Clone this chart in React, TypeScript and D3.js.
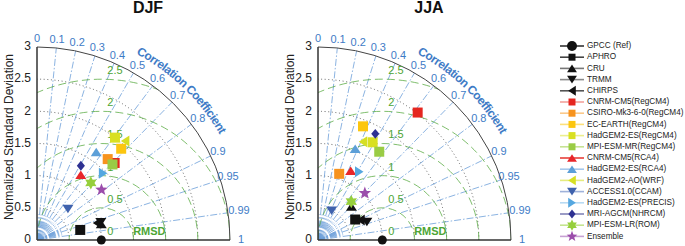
import React from 'react';
import * as d3 from 'd3';

const names = [
  'GPCC (Ref)', 'APHRO', 'CRU', 'TRMM', 'CHIRPS',
  'CNRM-CM5(RegCM4)', 'CSIRO-Mk3-6-0(RegCM4)', 'EC-EARTH(RegCM4)', 'HadGEM2-ES(RegCM4)', 'MPI-ESM-MR(RegCM4)',
  'CNRM-CM5(RCA4)', 'HadGEM2-ES(RCA4)', 'HadGEM2-AO(WRF)', 'ACCESS1.0(CCAM)', 'HadGEM2-ES(PRECIS)',
  'MRI-AGCM(NHRCM)', 'MPI-ESM-LR(ROM)', 'Ensemble',
];
const shapes = [
  'circle', 'square', 'triUp', 'triDown', 'triLeft',
  'square', 'square', 'square', 'square', 'square',
  'triUp', 'triUp', 'triLeft', 'triDown', 'triRight',
  'diamond', 'star6', 'star5',
];
const colors = [
  '#111111', '#111111', '#111111', '#111111', '#111111',
  '#e5261f', '#f7931e', '#fcc60f', '#d9e021', '#9acc45',
  '#e8262a', '#5c9fd8', '#d6df23', '#3f62ad', '#55a7e0',
  '#2e3192', '#96cf3c', '#9b4dab',
];
const lineColors = [
  '#333333', '#444444', '#777777', '#8a8a8a', '#555555',
  '#f3a29c', '#fbc98a', '#fde07a', '#ecef8e', '#c6e394',
  '#e8403a', '#a6c8ec', '#e6ec80', '#9fb2da', '#b8daf3',
  '#8384b8', '#c5e58f', '#c7a1d3',
];

const djfStd = [1, 0.69, 1.03, 1.03, 0.97, 1.7, 1.67, 1.93, 2.0, 1.66, 1.22, 1.65, 2.06, 0.68, 1.46, 1.34, 1.22, 1.27];
const djfCorr = [1, 0.974, 0.97, 0.963, 0.962, 0.71, 0.658, 0.678, 0.606, 0.707, 0.558, 0.558, 0.665, 0.707, 0.704, 0.509, 0.686, 0.789];
const jjaStd = [1, 0.66, 0.735, 0.81, 0.73, 2.515, 1.08, 1.9, 1.74, 1.67, 1.19, 1.53, 1.68, 0.5, 1.24, 1.875, 0.79, 1.03];
const jjaCorr = [1, 0.876, 0.707, 0.938, 0.905, 0.616, 0.305, 0.368, 0.488, 0.57, 0.427, 0.378, 0.416, 0.423, 0.517, 0.475, 0.655, 0.707];

const stdTicks = [0, 0.5, 1, 1.5, 2, 2.5, 3];
const stdArcs = [0.5, 1, 1.5, 2, 2.5];
const corrTicks = [0, 0.1, 0.2, 0.3, 0.4, 0.5, 0.6, 0.7, 0.8, 0.9, 0.95, 0.99, 1];
const corrLines = [0.1, 0.2, 0.3, 0.4, 0.5, 0.6, 0.7, 0.8, 0.9, 0.95, 0.99];
const fanLines = [0.05, 0.15, 0.25, 0.35, 0.45, 0.55, 0.65, 0.75, 0.85, 0.91, 0.92, 0.93, 0.94, 0.96, 0.97, 0.98];
const rmsdTicks = [0, 0.5, 1, 1.5, 2, 2.5];

const BLUE = '#3e7bc6';
const LBLUE = '#6d9fd9';
const GREEN = '#4da534';
const FONT = 'Liberation Sans, Arial, Helvetica, sans-serif';

function shapePath(shape: string, s: number): string {
  const h = s / 2;
  switch (shape) {
    case 'circle':
      return `M${h},0A${h},${h} 0 1 1 ${-h},0A${h},${h} 0 1 1 ${h},0Z`;
    case 'square':
      return `M${-h},${-h}H${h}V${h}H${-h}Z`;
    case 'triUp':
      return `M0,${-h * 0.85}L${h * 1.1},${h * 0.85}L${-h * 1.1},${h * 0.85}Z`;
    case 'triDown':
      return `M0,${h * 0.85}L${h * 1.1},${-h * 0.85}L${-h * 1.1},${-h * 0.85}Z`;
    case 'triLeft':
      return `M${-h * 0.85},0L${h * 0.85},${-h * 1.1}L${h * 0.85},${h * 1.1}Z`;
    case 'triRight':
      return `M${h * 0.85},0L${-h * 0.85},${-h * 1.1}L${-h * 0.85},${h * 1.1}Z`;
    case 'diamond':
      return `M0,${-h * 1.1}L${h * 0.9},0L0,${h * 1.1}L${-h * 0.9},0Z`;
    case 'star5':
    case 'star6': {
      const n = shape === 'star5' ? 5 : 6;
      const R = h * 1.25;
      const ri = shape === 'star5' ? R * 0.42 : R * 0.55;
      const pts: string[] = [];
      for (let i = 0; i < n * 2; i++) {
        const a = -Math.PI / 2 + (i * Math.PI) / n;
        const rr = i % 2 === 0 ? R : ri;
        pts.push(`${(rr * Math.cos(a)).toFixed(2)},${(rr * Math.sin(a)).toFixed(2)}`);
      }
      return 'M' + pts.join('L') + 'Z';
    }
  }
  return '';
}

const plotSize: Record<string, number> = {
  circle: 9, square: 10, triUp: 10, triDown: 10, triLeft: 10, triRight: 10, diamond: 9, star5: 10.5, star6: 10.5,
};
const legSize: Record<string, number> = {
  circle: 10, square: 7, triUp: 9, triDown: 9, triLeft: 9, triRight: 9, diamond: 8, star5: 9, star6: 9,
};

function Panel({ id, title, std, corr, ox, oy }: { id: string; title: string; std: number[]; corr: number[]; ox: number; oy: number }) {
  const R = 193;
  const r = d3.scaleLinear().domain([0, 3]).range([0, R]);
  const refX = ox + r(1);
  const polar = (s: number, c: number) => {
    const a = Math.acos(c);
    return [ox + r(s) * Math.cos(a), oy - r(s) * Math.sin(a)];
  };
  const clipD = `M${ox},${oy}L${ox + R},${oy}A${R},${R} 0 0 0 ${ox},${oy - R}Z`;
  const tb = 211;
  const a0 = (62 * Math.PI) / 180;
  const a1 = (28 * Math.PI) / 180;
  const textArc = `M${ox + tb * Math.cos(a0)},${oy - tb * Math.sin(a0)}A${tb},${tb} 0 0 1 ${ox + tb * Math.cos(a1)},${oy - tb * Math.sin(a1)}`;
  return (
    <g fontFamily={FONT}>
      <defs>
        <clipPath id={`clip-${id}`}>
          <path d={clipD} />
        </clipPath>
        <path id={`carc-${id}`} d={textArc} />
      </defs>
      <text x={ox + 111} y={13} fontSize={16} fontWeight="bold" textAnchor="middle" fill="#111">{title}</text>
      <text transform={`translate(${ox - 27},${oy - 103}) rotate(-90)`} fontSize={12} textAnchor="middle" dominantBaseline="middle" fill="#222">Normalized Standard Deviation</text>
      {stdArcs.map((v) => (
        <path key={'s' + v} d={`M${ox + r(v)},${oy}A${r(v)},${r(v)} 0 0 0 ${ox},${oy - r(v)}`} fill="none" stroke="#555" strokeWidth={0.9} strokeDasharray="1,2.6" />
      ))}
      <g clipPath={`url(#clip-${id})`}>
        <path d={`M${ox},${oy}L${ox + r(0.14)},${oy}A${r(0.14)},${r(0.14)} 0 0 0 ${ox},${oy - r(0.14)}Z`} fill={LBLUE} opacity={0.45} />
        {corrLines.map((c) => {
          const [x, y] = polar(3, c);
          return <line key={'c' + c} x1={ox} y1={oy} x2={x} y2={y} stroke={LBLUE} strokeWidth={0.8} strokeDasharray="7,2,1.5,2" />;
        })}
        {fanLines.map((c) => {
          const [x, y] = polar(0.4, c);
          return <line key={'f' + c} x1={ox} y1={oy} x2={x} y2={y} stroke={LBLUE} strokeWidth={0.8} strokeDasharray="7,2,1.5,2" />;
        })}
        {rmsdTicks.filter((d) => d > 0).map((d) => (
          <path key={'r' + d} d={`M${refX + r(d)},${oy}A${r(d)},${r(d)} 0 0 0 ${refX - r(d)},${oy}`} fill="none" stroke={GREEN} strokeWidth={0.8} strokeDasharray="8,4" opacity={0.9} />
        ))}
      </g>
      <path d={`M${ox + R},${oy}A${R},${R} 0 0 0 ${ox},${oy - R}`} fill="none" stroke="#444" strokeWidth={1} />
      <line x1={ox} y1={oy - R} x2={ox} y2={oy} stroke="#333" strokeWidth={1.5} />
      <line x1={ox} y1={oy} x2={ox + R} y2={oy} stroke="#333" strokeWidth={1.5} />
      {stdTicks.map((v) => (
        <text key={'t' + v} x={ox - 6} y={oy - r(v)} fontSize={12} textAnchor="end" dominantBaseline="middle" fill="#222">{v}</text>
      ))}
      {corrTicks.map((c) => {
        const a = Math.acos(c);
        const rr = 201 + (c > 0.97 ? 3 : 0);
        return (
          <text key={'cl' + c} x={ox + rr * Math.cos(a)} y={oy - rr * Math.sin(a)} fontSize={11} textAnchor="middle" dominantBaseline="middle" fill={BLUE}>{c}</text>
        );
      })}
      <text fontSize={12} fontWeight="bold" fill={BLUE}>
        <textPath href={`#carc-${id}`} textLength={118} lengthAdjust="spacing">Correlation Coefficient</textPath>
      </text>
      {rmsdTicks.map((d) => (
        <text key={'rl' + d} x={refX + 6} y={oy - r(d) - 8} fontSize={11} fill={GREEN} dominantBaseline="middle">{d}</text>
      ))}
      <text x={refX + 48} y={oy - 8} fontSize={11} fontWeight="bold" fill={GREEN} textAnchor="middle" dominantBaseline="middle">RMSD</text>
      {std.map((s, i) => {
        const [x, y] = polar(s, corr[i]);
        return <path key={'m' + i} d={shapePath(shapes[i], plotSize[shapes[i]])} transform={`translate(${x},${y})`} fill={colors[i]} />;
      })}
    </g>
  );
}

function Legend({ x, y }: { x: number; y: number }) {
  const step = 11.2;
  return (
    <g fontFamily={FONT}>
      {names.map((n, i) => {
        const yy = y + i * step;
        return (
          <g key={n}>
            <line x1={x} y1={yy} x2={x + 24} y2={yy} stroke={lineColors[i]} strokeWidth={1.6} />
            <path d={shapePath(shapes[i], legSize[shapes[i]])} transform={`translate(${x + 12},${yy})`} fill={colors[i]} />
            <text x={x + 27} y={yy} fontSize={8.2} dominantBaseline="middle" fill="#222">{n}</text>
          </g>
        );
      })}
    </g>
  );
}

export default function App() {
  return (
    <svg width={685} height={246} style={{ position: 'absolute', left: 0, top: 0, background: '#fff' }}>
      <rect width={685} height={246} fill="#fff" />
      <Panel id="djf" title="DJF" std={djfStd} corr={djfCorr} ox={37} oy={240} />
      <Panel id="jja" title="JJA" std={jjaStd} corr={jjaCorr} ox={318} oy={240} />
      <Legend x={560} y={46} />
    </svg>
  );
}
